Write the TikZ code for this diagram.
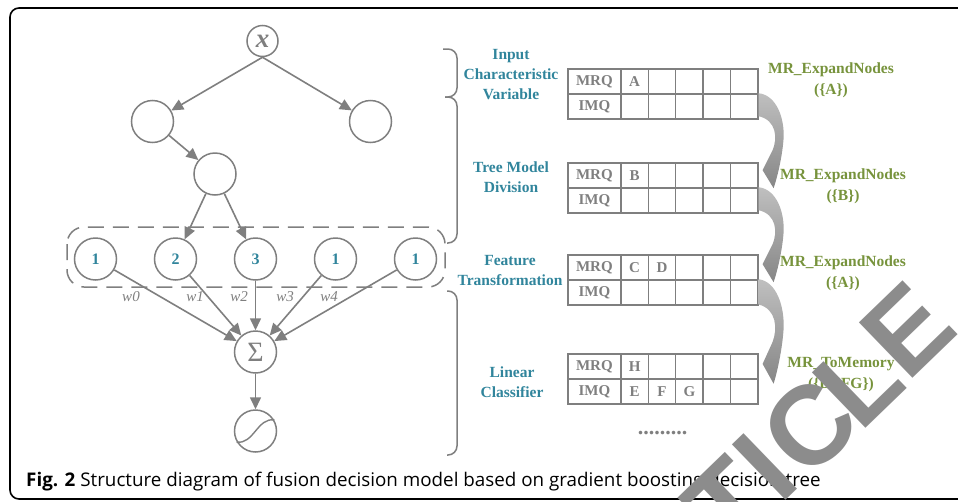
\documentclass[tikz,border=0pt]{standalone}
\usepackage{fontspec}
\setmainfont{Liberation Serif}
\newfontfamily\capfont{Open Sans}
\newfontfamily\wmfont{Liberation Sans}
\usetikzlibrary{arrows.meta, positioning, matrix}

\definecolor{linegray}{HTML}{7F7F7F}
\definecolor{tealtext}{HTML}{31859C}
\definecolor{olivetext}{HTML}{77933C}
\definecolor{wmgray}{HTML}{8C8C8C}

\begin{document}
\begin{tikzpicture}[
        x=1pt, y=-1pt,
        neuron/.style={draw=linegray, circle, line width=1.5pt, minimum size=42pt, inner sep=0pt, text=tealtext, font=\bfseries\fontsize{16}{16}\selectfont},
        link/.style={draw=linegray, line width=1.6pt, -{Triangle[length=12pt,width=11pt]}},
        wlabel/.style={text=linegray, inner sep=0pt, font=\itshape\fontsize{15}{15}\selectfont},
        stage/.style={text=tealtext, align=center, inner sep=0pt, font=\bfseries\fontsize{15.5}{20}\selectfont},
        call/.style={text=olivetext, align=center, inner sep=0pt, font=\bfseries\fontsize{15.5}{21}\selectfont},
        bracket/.style={draw=linegray, line width=1.5pt, rounded corners=9pt},
        qtable/.style={matrix of nodes, anchor=north west, inner sep=0pt, nodes in empty cells,
            column sep=-1.4pt, row sep=-1.4pt,
            nodes={draw=linegray, line width=1.4pt, minimum width=27.4pt, minimum height=25pt, inner sep=0pt, anchor=center, text=linegray, font=\bfseries\fontsize{15}{15}\selectfont},
            column 1/.style={nodes={minimum width=53pt}}},
        qarrow/.pic={
            \shade[top color=gray!50, bottom color=gray!95]
                (0,0) .. controls (18,2) and (26,25) .. (25,45)
                .. controls (24,60) and (20,80) .. (15,95)
                -- (4,77) -- (14,57)
                .. controls (19,45) and (18,27) .. (0,23) -- cycle;
        },
        letter/.style={text=wmgray, rotate=44, inner sep=0pt, font=\wmfont\bfseries\fontsize{112}{112}\selectfont}
    ]
    \useasboundingbox (0,0) rectangle (958,501);
    \clip (0,0) rectangle (958,501);

    % cadre
    \draw[black, line width=1.6pt, rounded corners=9pt] (10,8) rectangle (990,499);

    % arbre
    \node[draw=linegray, circle, line width=1.5pt, minimum size=31pt, inner sep=0pt, text=linegray, font=\bfseries\itshape\fontsize{27}{27}\selectfont] (x) at (262.5,41) {x};
    \node[neuron] (left) at (152.5,121.5) {};
    \node[neuron] (right) at (370.5,121.5) {};
    \node[neuron] (mid) at (215,174) {};
    \foreach \v [count=\i from 0] in {1,2,3,1,1}
        \node[neuron] (r\i) at (95.5+80*\i,259) {\v};
    \node[neuron, text=linegray, font=\fontsize{28}{28}\selectfont] (sum) at (255.5,352) {Σ};
    \node[neuron] (act) at (255.5,431) {};
    \draw[linegray, line width=1.4pt] ([shift={(-19,11)}]act.center) .. controls ([shift={(-2,14)}]act.center) and ([shift={(2,-14)}]act.center) .. ([shift={(19,-11)}]act.center);

    \draw[link] (x.south) -- (left);
    \draw[link] (x.south) -- (right);
    \draw[link] (left) -- (mid);
    \draw[link] (mid) -- (r1);
    \draw[link] (mid) -- (r2);
    \foreach \i in {0,...,4}
        \draw[link] (r\i) -- (sum);
    \draw[link] (sum) -- (act);

    % poids
    \foreach \w/\px in {0/131,1/195,2/239,3/285,4/329}
        \node[wlabel] (w\w) at (\px,297) {w\w};

    % groupe des feuilles
    \draw[linegray, line width=1.5pt, dash pattern=on 16pt off 9pt, rounded corners=17pt] (67,227) rectangle (445,287);

    % crochets
    \draw[bracket] (443,49) -| (457,97) -- (445,97);
    \draw[bracket] (445,97) -| (457,243) -- (447,243);
    \draw[bracket] (447,291) -| (457,455) -- (447,455);

    % etapes
    \node[stage] (s1) at (511,75) {Input\\Characteristic\\Variable};
    \node[stage] (s2) at (511,177) {Tree Model\\Division};
    \node[stage] (s3) at (510,270) {Feature\\Transformation};
    \node[stage] (s4) at (512,382) {Linear\\Classifier};

    % files
    \matrix (tab1) [qtable] at (567,68) {
        MRQ & A & & & & \\
        IMQ & & & & & \\
    };
    \matrix (tab2) [qtable] at (567,162) {
        MRQ & B & & & & \\
        IMQ & & & & & \\
    };
    \matrix (tab3) [qtable] at (567,254) {
        MRQ & C & D & & & \\
        IMQ & & & & & \\
    };
    \matrix (tab4) [qtable] at (567,353) {
        MRQ & H & & & & \\
        IMQ & E & F & G & & \\
    };
    \node[text=linegray, font=\bfseries\fontsize{22}{22}\selectfont] (dots) at (662.5,433) {.........};

    % fleches courbes
    \pic at (tab1-2-6.north east) {qarrow};
    \pic at (tab2-2-6.north east) {qarrow};
    \pic[yscale=1.1] at (tab3-2-6.north east) {qarrow};

    % appels
    \node[call] (c1) at (831,80) {MR\_ExpandNodes\\(\{A\})};
    \node[call] (c2) at (843,186) {MR\_ExpandNodes\\(\{B\})};
    \node[call] (c3) at (843,273) {MR\_ExpandNodes\\(\{A\})};
    \node[call] (c4) at (841,375) {MR\_ToMemory\\(\{DEFG\})};

    % legende
    \node[anchor=base west, inner sep=0pt, font=\capfont\fontsize{18.8}{18.8}\selectfont] (caption) at (26,486) {\textbf{Fig. 2} Structure diagram of fusion decision model based on gradient boosting decision tree};

    % filigrane
    \node[letter] (wT) at (728,503) {T};
    \node[letter] (wI) at (765,467) {I};
    \node[letter] (wC) at (810,427) {C};
    \node[letter] (wL) at (858,382) {L};
    \node[letter] (wE) at (908,330) {E};
\end{tikzpicture}
\end{document}
